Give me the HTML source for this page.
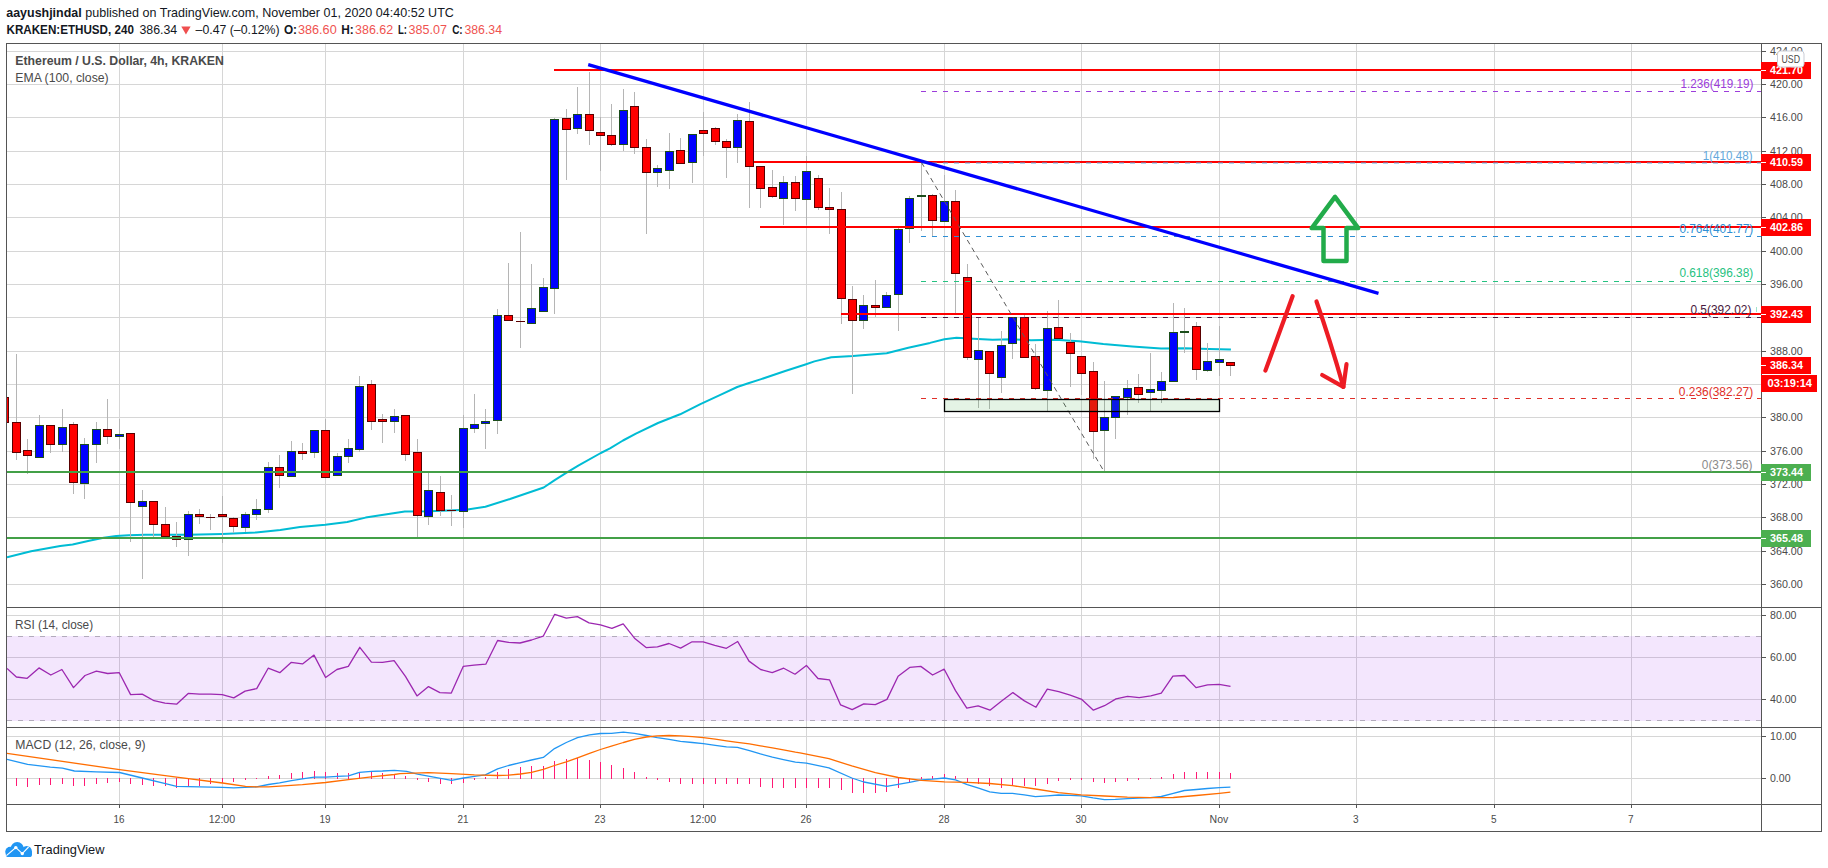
<!DOCTYPE html><html><head><meta charset="utf-8"><title>ETHUSD chart</title><style>html,body{margin:0;padding:0;background:#fff;}svg{display:block;}text{font-family:'Liberation Sans', Arial, sans-serif;}</style></head><body>
<svg width="1828" height="868" viewBox="0 0 1828 868">
<rect width="1828" height="868" fill="#ffffff"/>
<text x="6.3" y="16.5" font-size="13.5" fill="#131722" font-weight="bold" textLength="75.3" lengthAdjust="spacingAndGlyphs">aayushjindal</text>
<text x="85.3" y="16.5" font-size="13.5" fill="#131722" textLength="368.6" lengthAdjust="spacingAndGlyphs">published on TradingView.com, November 01, 2020 04:40:52 UTC</text>
<text x="6.5" y="33.7" font-size="13.5" fill="#131722" font-weight="bold" textLength="127.4" lengthAdjust="spacingAndGlyphs">KRAKEN:ETHUSD, 240</text>
<text x="139.5" y="33.7" font-size="13.5" fill="#131722" textLength="37.7" lengthAdjust="spacingAndGlyphs">386.34</text>
<polygon points="181.3,26.6 190.6,26.6 185.95,34.4" fill="#ef4f4f"/>
<text x="195.6" y="33.7" font-size="13.5" fill="#131722" textLength="84" lengthAdjust="spacingAndGlyphs">–0.47 (–0.12%)</text>
<text x="283.9" y="33.7" font-size="13.5" fill="#131722" font-weight="bold" textLength="13.1" lengthAdjust="spacingAndGlyphs">O:</text>
<text x="298" y="33.7" font-size="13.5" fill="#ef5350" textLength="38.7" lengthAdjust="spacingAndGlyphs">386.60</text>
<text x="341.3" y="33.7" font-size="13.5" fill="#131722" font-weight="bold" textLength="12.5" lengthAdjust="spacingAndGlyphs">H:</text>
<text x="355.1" y="33.7" font-size="13.5" fill="#ef5350" textLength="38.1" lengthAdjust="spacingAndGlyphs">386.62</text>
<text x="398" y="33.7" font-size="13.5" fill="#131722" font-weight="bold" textLength="9" lengthAdjust="spacingAndGlyphs">L:</text>
<text x="408.6" y="33.7" font-size="13.5" fill="#ef5350" textLength="38.4" lengthAdjust="spacingAndGlyphs">385.07</text>
<text x="452.2" y="33.7" font-size="13.5" fill="#131722" font-weight="bold" textLength="10.5" lengthAdjust="spacingAndGlyphs">C:</text>
<text x="464.4" y="33.7" font-size="13.5" fill="#ef5350" textLength="37.6" lengthAdjust="spacingAndGlyphs">386.34</text>
<defs><clipPath id="cm"><rect x="7" y="44" width="1754" height="563"/></clipPath><clipPath id="cr"><rect x="7" y="608" width="1754" height="119"/></clipPath><clipPath id="cd"><rect x="7" y="728" width="1754" height="76"/></clipPath></defs>
<g fill="#d6d6d6">
<rect x="7" y="584" width="1754" height="1"/>
<rect x="7" y="551" width="1754" height="1"/>
<rect x="7" y="517" width="1754" height="1"/>
<rect x="7" y="484" width="1754" height="1"/>
<rect x="7" y="451" width="1754" height="1"/>
<rect x="7" y="417" width="1754" height="1"/>
<rect x="7" y="384" width="1754" height="1"/>
<rect x="7" y="351" width="1754" height="1"/>
<rect x="7" y="317" width="1754" height="1"/>
<rect x="7" y="284" width="1754" height="1"/>
<rect x="7" y="251" width="1754" height="1"/>
<rect x="7" y="217" width="1754" height="1"/>
<rect x="7" y="184" width="1754" height="1"/>
<rect x="7" y="151" width="1754" height="1"/>
<rect x="7" y="117" width="1754" height="1"/>
<rect x="7" y="84" width="1754" height="1"/>
<rect x="7" y="51" width="1754" height="1"/>
<rect x="7" y="615" width="1754" height="1"/>
<rect x="7" y="657" width="1754" height="1"/>
<rect x="7" y="699" width="1754" height="1"/>
<rect x="7" y="736" width="1754" height="1"/>
<rect x="7" y="778" width="1754" height="1"/>
<rect x="119" y="44" width="1" height="760"/>
<rect x="222" y="44" width="1" height="760"/>
<rect x="325" y="44" width="1" height="760"/>
<rect x="463" y="44" width="1" height="760"/>
<rect x="600" y="44" width="1" height="760"/>
<rect x="703" y="44" width="1" height="760"/>
<rect x="806" y="44" width="1" height="760"/>
<rect x="944" y="44" width="1" height="760"/>
<rect x="1081" y="44" width="1" height="760"/>
<rect x="1219" y="44" width="1" height="760"/>
<rect x="1356" y="44" width="1" height="760"/>
<rect x="1494" y="44" width="1" height="760"/>
<rect x="1631" y="44" width="1" height="760"/>
</g>
<rect x="7" y="636" width="1754" height="85" fill="#8705eb" fill-opacity="0.1"/>
<g stroke="#b2abbb" stroke-width="1" stroke-dasharray="5 6"><line x1="7" y1="636.5" x2="1761" y2="636.5"/><line x1="7" y1="720.5" x2="1761" y2="720.5"/></g>
<g clip-path="url(#cm)">
<polyline points="7.0,557.4 31.1,551.2 60.2,546.0 72.6,544.5 89.2,540.8 103.7,537.7 116.2,536.0 128.6,535.2 145.2,534.8 188.4,534.7 222.3,533.9 256.0,532.4 280.3,530.0 300.0,527.0 325.3,524.7 347.2,522.0 365.6,517.6 404.8,511.6 430.0,511.2 466.0,509.7 485.4,506.7 510.0,499.0 543.7,487.5 554.7,480.1 565.8,473.1 578.7,465.3 600.8,453.0 610.0,448.4 623.0,440.5 635.9,433.6 658.0,423.0 680.1,414.3 700.4,404.1 722.5,393.8 737.2,387.0 748.3,383.3 761.2,379.1 785.2,371.0 805.4,364.5 814.4,361.4 831.3,357.3 853.0,356.1 886.7,353.2 908.3,347.7 930.0,342.9 944.4,339.3 956.5,337.8 973.3,338.8 992.6,339.7 1011.8,339.3 1031.1,340.2 1055.1,339.7 1079.2,341.2 1103.3,344.1 1132.2,346.5 1161.0,348.4 1185.1,348.2 1209.2,348.9 1230.9,349.4" fill="none" stroke="#00bcd4" stroke-width="2" stroke-linejoin="round"/>
<g fill="#b5b5b5">
<rect x="4" y="392" width="1" height="33"/>
<rect x="16" y="354" width="1" height="106"/>
<rect x="27" y="439" width="1" height="35"/>
<rect x="39" y="415" width="1" height="43"/>
<rect x="50" y="425" width="1" height="28"/>
<rect x="62" y="409" width="1" height="43"/>
<rect x="73" y="422" width="1" height="72"/>
<rect x="84" y="438" width="1" height="61"/>
<rect x="96" y="422" width="1" height="41"/>
<rect x="107" y="399" width="1" height="45"/>
<rect x="119" y="419" width="1" height="30"/>
<rect x="130" y="433" width="1" height="109"/>
<rect x="142" y="490" width="1" height="89"/>
<rect x="153" y="501" width="1" height="36"/>
<rect x="165" y="507" width="1" height="30"/>
<rect x="176" y="522" width="1" height="25"/>
<rect x="188" y="511" width="1" height="45"/>
<rect x="199" y="509" width="1" height="15"/>
<rect x="210" y="514" width="1" height="16"/>
<rect x="222" y="496" width="1" height="47"/>
<rect x="233" y="517" width="1" height="16"/>
<rect x="245" y="512" width="1" height="20"/>
<rect x="256" y="499" width="1" height="21"/>
<rect x="268" y="462" width="1" height="51"/>
<rect x="279" y="455" width="1" height="33"/>
<rect x="291" y="441" width="1" height="36"/>
<rect x="302" y="443" width="1" height="17"/>
<rect x="314" y="430" width="1" height="28"/>
<rect x="325" y="419" width="1" height="59"/>
<rect x="337" y="453" width="1" height="23"/>
<rect x="348" y="439" width="1" height="24"/>
<rect x="359" y="376" width="1" height="76"/>
<rect x="371" y="380" width="1" height="50"/>
<rect x="382" y="414" width="1" height="29"/>
<rect x="394" y="409" width="1" height="24"/>
<rect x="405" y="415" width="1" height="46"/>
<rect x="417" y="439" width="1" height="100"/>
<rect x="428" y="473" width="1" height="52"/>
<rect x="440" y="476" width="1" height="40"/>
<rect x="451" y="495" width="1" height="31"/>
<rect x="463" y="415" width="1" height="113"/>
<rect x="474" y="394" width="1" height="39"/>
<rect x="485" y="409" width="1" height="40"/>
<rect x="497" y="309" width="1" height="125"/>
<rect x="508" y="263" width="1" height="58"/>
<rect x="520" y="232" width="1" height="116"/>
<rect x="531" y="264" width="1" height="60"/>
<rect x="543" y="278" width="1" height="34"/>
<rect x="554" y="118" width="1" height="196"/>
<rect x="566" y="109" width="1" height="71"/>
<rect x="577" y="87" width="1" height="47"/>
<rect x="589" y="72" width="1" height="73"/>
<rect x="600" y="117" width="1" height="54"/>
<rect x="611" y="104" width="1" height="42"/>
<rect x="623" y="89" width="1" height="62"/>
<rect x="634" y="92" width="1" height="62"/>
<rect x="646" y="139" width="1" height="95"/>
<rect x="657" y="165" width="1" height="22"/>
<rect x="669" y="133" width="1" height="56"/>
<rect x="680" y="138" width="1" height="26"/>
<rect x="692" y="134" width="1" height="49"/>
<rect x="703" y="112" width="1" height="44"/>
<rect x="715" y="127" width="1" height="18"/>
<rect x="726" y="139" width="1" height="39"/>
<rect x="737" y="114" width="1" height="49"/>
<rect x="749" y="102" width="1" height="106"/>
<rect x="760" y="166" width="1" height="42"/>
<rect x="772" y="170" width="1" height="28"/>
<rect x="783" y="176" width="1" height="49"/>
<rect x="795" y="176" width="1" height="35"/>
<rect x="806" y="156" width="1" height="69"/>
<rect x="818" y="175" width="1" height="35"/>
<rect x="829" y="188" width="1" height="46"/>
<rect x="841" y="192" width="1" height="132"/>
<rect x="852" y="286" width="1" height="108"/>
<rect x="863" y="295" width="1" height="34"/>
<rect x="875" y="280" width="1" height="37"/>
<rect x="886" y="292" width="1" height="16"/>
<rect x="898" y="226" width="1" height="105"/>
<rect x="909" y="196" width="1" height="47"/>
<rect x="921" y="162" width="1" height="69"/>
<rect x="932" y="194" width="1" height="42"/>
<rect x="944" y="175" width="1" height="47"/>
<rect x="955" y="190" width="1" height="125"/>
<rect x="967" y="264" width="1" height="96"/>
<rect x="978" y="318" width="1" height="90"/>
<rect x="989" y="351" width="1" height="58"/>
<rect x="1001" y="331" width="1" height="62"/>
<rect x="1012" y="317" width="1" height="42"/>
<rect x="1024" y="315" width="1" height="43"/>
<rect x="1035" y="344" width="1" height="46"/>
<rect x="1047" y="311" width="1" height="101"/>
<rect x="1058" y="300" width="1" height="39"/>
<rect x="1070" y="333" width="1" height="54"/>
<rect x="1081" y="356" width="1" height="39"/>
<rect x="1093" y="362" width="1" height="97"/>
<rect x="1104" y="381" width="1" height="90"/>
<rect x="1115" y="396" width="1" height="43"/>
<rect x="1127" y="380" width="1" height="35"/>
<rect x="1138" y="374" width="1" height="29"/>
<rect x="1150" y="353" width="1" height="58"/>
<rect x="1161" y="372" width="1" height="31"/>
<rect x="1173" y="303" width="1" height="79"/>
<rect x="1184" y="308" width="1" height="45"/>
<rect x="1196" y="322" width="1" height="58"/>
<rect x="1207" y="343" width="1" height="29"/>
<rect x="1219" y="326" width="1" height="50"/>
<rect x="1230" y="362" width="1" height="14"/>
</g>
<rect x="0" y="397" width="9" height="26" fill="#5a0000"/><rect x="1" y="398" width="7" height="24" fill="#ff0000"/>
<rect x="12" y="422" width="9" height="31" fill="#5a0000"/><rect x="13" y="423" width="7" height="29" fill="#ff0000"/>
<rect x="23" y="450" width="9" height="6" fill="#5a0000"/><rect x="24" y="451" width="7" height="4" fill="#ff0000"/>
<rect x="35" y="425" width="9" height="33" fill="#1b4d1b"/><rect x="36" y="426" width="7" height="31" fill="#0000ff"/>
<rect x="46" y="425" width="9" height="20" fill="#5a0000"/><rect x="47" y="426" width="7" height="18" fill="#ff0000"/>
<rect x="58" y="427" width="9" height="18" fill="#1b4d1b"/><rect x="59" y="428" width="7" height="16" fill="#0000ff"/>
<rect x="69" y="424" width="9" height="59" fill="#5a0000"/><rect x="70" y="425" width="7" height="57" fill="#ff0000"/>
<rect x="80" y="444" width="9" height="40" fill="#1b4d1b"/><rect x="81" y="445" width="7" height="38" fill="#0000ff"/>
<rect x="92" y="429" width="9" height="16" fill="#1b4d1b"/><rect x="93" y="430" width="7" height="14" fill="#0000ff"/>
<rect x="103" y="429" width="9" height="8" fill="#5a0000"/><rect x="104" y="430" width="7" height="6" fill="#ff0000"/>
<rect x="115" y="434" width="9" height="3" fill="#1b4d1b"/><rect x="116" y="435" width="7" height="1" fill="#0000ff"/>
<rect x="126" y="433" width="9" height="70" fill="#5a0000"/><rect x="127" y="434" width="7" height="68" fill="#ff0000"/>
<rect x="138" y="501" width="9" height="6" fill="#1b4d1b"/><rect x="139" y="502" width="7" height="4" fill="#0000ff"/>
<rect x="149" y="501" width="9" height="24" fill="#5a0000"/><rect x="150" y="502" width="7" height="22" fill="#ff0000"/>
<rect x="161" y="524" width="9" height="13" fill="#5a0000"/><rect x="162" y="525" width="7" height="11" fill="#ff0000"/>
<rect x="172" y="536" width="9" height="4" fill="#5a0000"/><rect x="173" y="537" width="7" height="2" fill="#ff0000"/>
<rect x="184" y="514" width="9" height="26" fill="#1b4d1b"/><rect x="185" y="515" width="7" height="24" fill="#0000ff"/>
<rect x="195" y="514" width="9" height="3" fill="#5a0000"/><rect x="196" y="515" width="7" height="1" fill="#ff0000"/>
<rect x="206" y="517" width="9" height="1" fill="#5a0000"/>
<rect x="218" y="514" width="9" height="3" fill="#5a0000"/><rect x="219" y="515" width="7" height="1" fill="#ff0000"/>
<rect x="229" y="518" width="9" height="9" fill="#5a0000"/><rect x="230" y="519" width="7" height="7" fill="#ff0000"/>
<rect x="241" y="514" width="9" height="14" fill="#1b4d1b"/><rect x="242" y="515" width="7" height="12" fill="#0000ff"/>
<rect x="252" y="509" width="9" height="6" fill="#1b4d1b"/><rect x="253" y="510" width="7" height="4" fill="#0000ff"/>
<rect x="264" y="467" width="9" height="43" fill="#1b4d1b"/><rect x="265" y="468" width="7" height="41" fill="#0000ff"/>
<rect x="275" y="467" width="9" height="9" fill="#5a0000"/><rect x="276" y="468" width="7" height="7" fill="#ff0000"/>
<rect x="287" y="451" width="9" height="26" fill="#1b4d1b"/><rect x="288" y="452" width="7" height="24" fill="#0000ff"/>
<rect x="298" y="451" width="9" height="3" fill="#5a0000"/><rect x="299" y="452" width="7" height="1" fill="#ff0000"/>
<rect x="310" y="430" width="9" height="23" fill="#1b4d1b"/><rect x="311" y="431" width="7" height="21" fill="#0000ff"/>
<rect x="321" y="430" width="9" height="48" fill="#5a0000"/><rect x="322" y="431" width="7" height="46" fill="#ff0000"/>
<rect x="333" y="456" width="9" height="20" fill="#1b4d1b"/><rect x="334" y="457" width="7" height="18" fill="#0000ff"/>
<rect x="344" y="448" width="9" height="9" fill="#1b4d1b"/><rect x="345" y="449" width="7" height="7" fill="#0000ff"/>
<rect x="355" y="386" width="9" height="64" fill="#1b4d1b"/><rect x="356" y="387" width="7" height="62" fill="#0000ff"/>
<rect x="367" y="384" width="9" height="38" fill="#5a0000"/><rect x="368" y="385" width="7" height="36" fill="#ff0000"/>
<rect x="378" y="419" width="9" height="3" fill="#5a0000"/><rect x="379" y="420" width="7" height="1" fill="#ff0000"/>
<rect x="390" y="416" width="9" height="6" fill="#1b4d1b"/><rect x="391" y="417" width="7" height="4" fill="#0000ff"/>
<rect x="401" y="415" width="9" height="40" fill="#5a0000"/><rect x="402" y="416" width="7" height="38" fill="#ff0000"/>
<rect x="413" y="452" width="9" height="64" fill="#5a0000"/><rect x="414" y="453" width="7" height="62" fill="#ff0000"/>
<rect x="424" y="490" width="9" height="27" fill="#1b4d1b"/><rect x="425" y="491" width="7" height="25" fill="#0000ff"/>
<rect x="436" y="492" width="9" height="19" fill="#5a0000"/><rect x="437" y="493" width="7" height="17" fill="#ff0000"/>
<rect x="447" y="510" width="9" height="1" fill="#5a0000"/>
<rect x="459" y="428" width="9" height="84" fill="#1b4d1b"/><rect x="460" y="429" width="7" height="82" fill="#0000ff"/>
<rect x="470" y="424" width="9" height="5" fill="#1b4d1b"/><rect x="471" y="425" width="7" height="3" fill="#0000ff"/>
<rect x="481" y="421" width="9" height="3" fill="#1b4d1b"/><rect x="482" y="422" width="7" height="1" fill="#0000ff"/>
<rect x="493" y="315" width="9" height="106" fill="#1b4d1b"/><rect x="494" y="316" width="7" height="104" fill="#0000ff"/>
<rect x="504" y="315" width="9" height="6" fill="#5a0000"/><rect x="505" y="316" width="7" height="4" fill="#ff0000"/>
<rect x="516" y="321" width="9" height="1" fill="#5a0000"/>
<rect x="527" y="308" width="9" height="16" fill="#1b4d1b"/><rect x="528" y="309" width="7" height="14" fill="#0000ff"/>
<rect x="539" y="287" width="9" height="25" fill="#1b4d1b"/><rect x="540" y="288" width="7" height="23" fill="#0000ff"/>
<rect x="550" y="119" width="9" height="170" fill="#1b4d1b"/><rect x="551" y="120" width="7" height="168" fill="#0000ff"/>
<rect x="562" y="118" width="9" height="12" fill="#5a0000"/><rect x="563" y="119" width="7" height="10" fill="#ff0000"/>
<rect x="573" y="114" width="9" height="15" fill="#1b4d1b"/><rect x="574" y="115" width="7" height="13" fill="#0000ff"/>
<rect x="585" y="114" width="9" height="17" fill="#5a0000"/><rect x="586" y="115" width="7" height="15" fill="#ff0000"/>
<rect x="596" y="132" width="9" height="4" fill="#5a0000"/><rect x="597" y="133" width="7" height="2" fill="#ff0000"/>
<rect x="607" y="135" width="9" height="10" fill="#5a0000"/><rect x="608" y="136" width="7" height="8" fill="#ff0000"/>
<rect x="619" y="110" width="9" height="35" fill="#1b4d1b"/><rect x="620" y="111" width="7" height="33" fill="#0000ff"/>
<rect x="630" y="106" width="9" height="42" fill="#5a0000"/><rect x="631" y="107" width="7" height="40" fill="#ff0000"/>
<rect x="642" y="147" width="9" height="26" fill="#5a0000"/><rect x="643" y="148" width="7" height="24" fill="#ff0000"/>
<rect x="653" y="168" width="9" height="5" fill="#1b4d1b"/><rect x="654" y="169" width="7" height="3" fill="#0000ff"/>
<rect x="665" y="151" width="9" height="20" fill="#1b4d1b"/><rect x="666" y="152" width="7" height="18" fill="#0000ff"/>
<rect x="676" y="150" width="9" height="14" fill="#5a0000"/><rect x="677" y="151" width="7" height="12" fill="#ff0000"/>
<rect x="688" y="134" width="9" height="29" fill="#1b4d1b"/><rect x="689" y="135" width="7" height="27" fill="#0000ff"/>
<rect x="699" y="130" width="9" height="4" fill="#5a0000"/><rect x="700" y="131" width="7" height="2" fill="#ff0000"/>
<rect x="711" y="128" width="9" height="14" fill="#5a0000"/><rect x="712" y="129" width="7" height="12" fill="#ff0000"/>
<rect x="722" y="141" width="9" height="7" fill="#5a0000"/><rect x="723" y="142" width="7" height="5" fill="#ff0000"/>
<rect x="733" y="120" width="9" height="28" fill="#1b4d1b"/><rect x="734" y="121" width="7" height="26" fill="#0000ff"/>
<rect x="745" y="121" width="9" height="46" fill="#5a0000"/><rect x="746" y="122" width="7" height="44" fill="#ff0000"/>
<rect x="756" y="166" width="9" height="23" fill="#5a0000"/><rect x="757" y="167" width="7" height="21" fill="#ff0000"/>
<rect x="768" y="187" width="9" height="10" fill="#5a0000"/><rect x="769" y="188" width="7" height="8" fill="#ff0000"/>
<rect x="779" y="182" width="9" height="17" fill="#1b4d1b"/><rect x="780" y="183" width="7" height="15" fill="#0000ff"/>
<rect x="791" y="182" width="9" height="17" fill="#5a0000"/><rect x="792" y="183" width="7" height="15" fill="#ff0000"/>
<rect x="802" y="171" width="9" height="29" fill="#1b4d1b"/><rect x="803" y="172" width="7" height="27" fill="#0000ff"/>
<rect x="814" y="178" width="9" height="30" fill="#5a0000"/><rect x="815" y="179" width="7" height="28" fill="#ff0000"/>
<rect x="825" y="207" width="9" height="3" fill="#5a0000"/><rect x="826" y="208" width="7" height="1" fill="#ff0000"/>
<rect x="837" y="209" width="9" height="90" fill="#5a0000"/><rect x="838" y="210" width="7" height="88" fill="#ff0000"/>
<rect x="848" y="299" width="9" height="22" fill="#5a0000"/><rect x="849" y="300" width="7" height="20" fill="#ff0000"/>
<rect x="859" y="305" width="9" height="16" fill="#1b4d1b"/><rect x="860" y="306" width="7" height="14" fill="#0000ff"/>
<rect x="871" y="305" width="9" height="3" fill="#5a0000"/><rect x="872" y="306" width="7" height="1" fill="#ff0000"/>
<rect x="882" y="295" width="9" height="13" fill="#1b4d1b"/><rect x="883" y="296" width="7" height="11" fill="#0000ff"/>
<rect x="894" y="229" width="9" height="66" fill="#1b4d1b"/><rect x="895" y="230" width="7" height="64" fill="#0000ff"/>
<rect x="905" y="198" width="9" height="31" fill="#1b4d1b"/><rect x="906" y="199" width="7" height="29" fill="#0000ff"/>
<rect x="917" y="195" width="9" height="2" fill="#1b4d1b"/>
<rect x="928" y="195" width="9" height="26" fill="#5a0000"/><rect x="929" y="196" width="7" height="24" fill="#ff0000"/>
<rect x="940" y="201" width="9" height="21" fill="#1b4d1b"/><rect x="941" y="202" width="7" height="19" fill="#0000ff"/>
<rect x="951" y="201" width="9" height="73" fill="#5a0000"/><rect x="952" y="202" width="7" height="71" fill="#ff0000"/>
<rect x="963" y="277" width="9" height="81" fill="#5a0000"/><rect x="964" y="278" width="7" height="79" fill="#ff0000"/>
<rect x="974" y="350" width="9" height="10" fill="#1b4d1b"/><rect x="975" y="351" width="7" height="8" fill="#0000ff"/>
<rect x="985" y="351" width="9" height="23" fill="#5a0000"/><rect x="986" y="352" width="7" height="21" fill="#ff0000"/>
<rect x="997" y="345" width="9" height="33" fill="#1b4d1b"/><rect x="998" y="346" width="7" height="31" fill="#0000ff"/>
<rect x="1008" y="317" width="9" height="27" fill="#1b4d1b"/><rect x="1009" y="318" width="7" height="25" fill="#0000ff"/>
<rect x="1020" y="317" width="9" height="41" fill="#5a0000"/><rect x="1021" y="318" width="7" height="39" fill="#ff0000"/>
<rect x="1031" y="356" width="9" height="33" fill="#5a0000"/><rect x="1032" y="357" width="7" height="31" fill="#ff0000"/>
<rect x="1043" y="328" width="9" height="63" fill="#1b4d1b"/><rect x="1044" y="329" width="7" height="61" fill="#0000ff"/>
<rect x="1054" y="327" width="9" height="12" fill="#5a0000"/><rect x="1055" y="328" width="7" height="10" fill="#ff0000"/>
<rect x="1066" y="342" width="9" height="12" fill="#5a0000"/><rect x="1067" y="343" width="7" height="10" fill="#ff0000"/>
<rect x="1077" y="356" width="9" height="18" fill="#5a0000"/><rect x="1078" y="357" width="7" height="16" fill="#ff0000"/>
<rect x="1089" y="371" width="9" height="61" fill="#5a0000"/><rect x="1090" y="372" width="7" height="59" fill="#ff0000"/>
<rect x="1100" y="417" width="9" height="14" fill="#1b4d1b"/><rect x="1101" y="418" width="7" height="12" fill="#0000ff"/>
<rect x="1111" y="396" width="9" height="22" fill="#1b4d1b"/><rect x="1112" y="397" width="7" height="20" fill="#0000ff"/>
<rect x="1123" y="388" width="9" height="10" fill="#1b4d1b"/><rect x="1124" y="389" width="7" height="8" fill="#0000ff"/>
<rect x="1134" y="387" width="9" height="8" fill="#5a0000"/><rect x="1135" y="388" width="7" height="6" fill="#ff0000"/>
<rect x="1146" y="389" width="9" height="4" fill="#1b4d1b"/><rect x="1147" y="390" width="7" height="2" fill="#0000ff"/>
<rect x="1157" y="381" width="9" height="10" fill="#1b4d1b"/><rect x="1158" y="382" width="7" height="8" fill="#0000ff"/>
<rect x="1169" y="332" width="9" height="50" fill="#1b4d1b"/><rect x="1170" y="333" width="7" height="48" fill="#0000ff"/>
<rect x="1180" y="331" width="9" height="2" fill="#1b4d1b"/>
<rect x="1192" y="326" width="9" height="44" fill="#5a0000"/><rect x="1193" y="327" width="7" height="42" fill="#ff0000"/>
<rect x="1203" y="361" width="9" height="10" fill="#1b4d1b"/><rect x="1204" y="362" width="7" height="8" fill="#0000ff"/>
<rect x="1215" y="359" width="9" height="4" fill="#1b4d1b"/><rect x="1216" y="360" width="7" height="2" fill="#0000ff"/>
<rect x="1226" y="362" width="9" height="4" fill="#5a0000"/><rect x="1227" y="363" width="7" height="2" fill="#ff0000"/>
<g>
<rect x="554" y="69" width="1207" height="2" fill="#ff0000"/>
<rect x="754" y="161" width="1007" height="2" fill="#ff0000"/>
<rect x="760" y="226" width="1001" height="2" fill="#ff0000"/>
<rect x="841" y="313" width="920" height="2" fill="#ff0000"/>
<rect x="7" y="471" width="1754" height="2" fill="#43a047"/>
<rect x="7" y="537" width="1754" height="2" fill="#43a047"/>
</g>
<line x1="921" y1="91.5" x2="1761" y2="91.5" stroke="#9c3ddb" stroke-width="1" stroke-dasharray="5 6"/>
<line x1="921" y1="163" x2="1761" y2="163" stroke="#64a8dc" stroke-width="1" stroke-dasharray="5 6"/>
<line x1="921" y1="236.5" x2="1761" y2="236.5" stroke="#2f8fd4" stroke-width="1" stroke-dasharray="5 6"/>
<line x1="921" y1="281.5" x2="1761" y2="281.5" stroke="#26c281" stroke-width="1" stroke-dasharray="5 6"/>
<line x1="921" y1="317.5" x2="1761" y2="317.5" stroke="#4a1a40" stroke-width="1" stroke-dasharray="5 6"/>
<line x1="921" y1="398.5" x2="1761" y2="398.5" stroke="#e0302a" stroke-width="1" stroke-dasharray="5 6"/>
<line x1="921.5" y1="162.5" x2="1103.5" y2="470.5" stroke="#5a5a5a" stroke-width="1" stroke-dasharray="5 4"/>
<rect x="944.5" y="399.5" width="275" height="12" fill="#4caf50" fill-opacity="0.15" stroke="#000" stroke-width="1.3"/>
<text x="1680.5" y="87.9" font-size="12" fill="#9c3ddb" textLength="72.9" lengthAdjust="spacingAndGlyphs">1.236(419.19)</text>
<text x="1702.8" y="160.1" font-size="12" fill="#64a8dc" textLength="49.7" lengthAdjust="spacingAndGlyphs">1(410.48)</text>
<text x="1679.4" y="233" font-size="12" fill="#2f8fd4" textLength="73.8" lengthAdjust="spacingAndGlyphs">0.764(401.77)</text>
<text x="1679.4" y="277.2" font-size="12" fill="#26c281" textLength="73.8" lengthAdjust="spacingAndGlyphs">0.618(396.38)</text>
<text x="1690.4" y="314" font-size="12" fill="#4a1a40" textLength="61" lengthAdjust="spacingAndGlyphs">0.5(392.02)</text>
<text x="1678.8" y="395.5" font-size="12" fill="#e0302a" textLength="74.4" lengthAdjust="spacingAndGlyphs">0.236(382.27)</text>
<text x="1701.8" y="468.8" font-size="12" fill="#8a8a8a" textLength="50.7" lengthAdjust="spacingAndGlyphs">0(373.56)</text>
<line x1="588.2" y1="64.6" x2="1378.5" y2="293.4" stroke="#0000ff" stroke-width="3.2"/>
<path d="M1335,196.8 L1311.8,228.1 L1323.5,228.1 L1323.5,260.9 L1346.5,260.9 L1346.5,228.1 L1358.2,228.1 Z" fill="none" stroke="#22ab4a" stroke-width="4.5" stroke-linejoin="round"/>
<g fill="none" stroke="#ed1c24" stroke-width="4.2" stroke-linecap="round" stroke-linejoin="round"><path d="M1265.4,370.6 L1292.6,296.2"/><path d="M1316.5,301.5 Q1330,340 1343.4,386.8"/><path d="M1322.2,375 L1343.4,386.8 L1346.5,364.2"/></g>
<rect x="1756" y="307" width="1" height="5" fill="#a0e3cc"/>
</g>
<text x="15.3" y="65.1" font-size="13.5" fill="#4a4a4a" font-weight="bold" textLength="208.6" lengthAdjust="spacingAndGlyphs">Ethereum / U.S. Dollar, 4h, KRAKEN</text>
<text x="15.3" y="81.5" font-size="13.5" fill="#4a4a4a" textLength="93.4" lengthAdjust="spacingAndGlyphs">EMA (100, close)</text>
<g clip-path="url(#cr)">
<polyline points="7.0,668.4 16.4,677.0 27.2,678.3 39.0,667.9 50.8,675.0 61.9,669.5 73.5,687.6 85.0,675.5 96.4,671.2 107.7,673.5 119.3,672.7 130.6,694.6 142.2,694.1 154.0,700.7 165.0,703.2 176.6,704.2 188.2,693.4 199.5,694.1 210.9,694.1 222.2,694.6 233.8,697.9 245.1,691.1 256.7,688.6 268.2,668.2 279.8,672.7 291.1,662.4 302.5,663.9 314.0,655.1 325.6,677.5 336.9,669.5 348.3,666.4 359.8,647.3 371.4,662.2 382.5,662.4 394.1,660.6 405.6,676.7 417.0,695.9 428.5,686.6 439.9,692.6 451.3,693.1 463.2,666.4 474.0,665.2 485.8,664.2 497.6,640.5 508.4,642.3 520.0,643.0 531.6,640.0 543.2,636.2 554.7,614.3 566.3,618.1 577.4,616.6 589.0,622.9 600.5,624.9 611.9,628.4 623.2,623.9 634.5,638.2 646.1,647.6 657.4,646.8 669.0,643.5 680.6,648.1 692.1,641.8 703.2,641.8 714.8,645.3 726.4,648.3 737.7,641.5 749.0,661.1 760.6,669.5 772.2,672.7 783.7,668.2 795.0,674.2 806.4,665.4 818.0,678.5 829.5,679.8 840.6,704.9 852.2,709.7 863.8,703.9 875.3,704.7 887.0,699.4 898.1,676.2 909.7,667.4 920.8,666.4 932.6,675.0 944.2,669.2 955.5,690.6 966.8,708.2 978.1,705.9 990.0,710.2 1001.3,701.2 1012.9,692.6 1024.4,700.9 1036.0,707.2 1047.3,689.1 1058.7,691.6 1070.2,695.1 1081.8,699.4 1093.4,710.2 1104.5,705.7 1116.0,698.9 1127.6,696.4 1139.2,697.6 1150.8,695.9 1161.3,693.1 1172.9,676.2 1184.5,675.5 1196.0,687.6 1207.6,684.8 1219.2,684.3 1230.5,686.3" fill="none" stroke="#9c27b0" stroke-width="1.3" stroke-linejoin="round"/>
</g>
<text x="15.1" y="629.0" font-size="13.5" fill="#4a4a4a" textLength="78" lengthAdjust="spacingAndGlyphs">RSI (14, close)</text>
<g clip-path="url(#cd)">
<g fill="#ff1a75">
<rect x="4" y="778" width="1" height="8"/>
<rect x="16" y="778" width="1" height="8"/>
<rect x="27" y="778" width="1" height="9"/>
<rect x="39" y="778" width="1" height="7"/>
<rect x="50" y="778" width="1" height="7"/>
<rect x="62" y="778" width="1" height="6"/>
<rect x="73" y="778" width="1" height="8"/>
<rect x="84" y="778" width="1" height="8"/>
<rect x="96" y="778" width="1" height="6"/>
<rect x="107" y="778" width="1" height="5"/>
<rect x="119" y="778" width="1" height="4"/>
<rect x="130" y="778" width="1" height="6"/>
<rect x="142" y="778" width="1" height="7"/>
<rect x="153" y="778" width="1" height="8"/>
<rect x="165" y="778" width="1" height="8"/>
<rect x="176" y="778" width="1" height="10"/>
<rect x="188" y="778" width="1" height="8"/>
<rect x="199" y="778" width="1" height="8"/>
<rect x="210" y="778" width="1" height="6"/>
<rect x="222" y="778" width="1" height="5"/>
<rect x="233" y="778" width="1" height="4"/>
<rect x="245" y="778" width="1" height="2"/>
<rect x="256" y="778" width="1" height="1"/>
<rect x="268" y="776" width="1" height="3"/>
<rect x="279" y="775" width="1" height="4"/>
<rect x="291" y="773" width="1" height="6"/>
<rect x="302" y="772" width="1" height="7"/>
<rect x="314" y="771" width="1" height="8"/>
<rect x="325" y="772" width="1" height="7"/>
<rect x="337" y="773" width="1" height="6"/>
<rect x="348" y="773" width="1" height="6"/>
<rect x="359" y="772" width="1" height="7"/>
<rect x="371" y="772" width="1" height="7"/>
<rect x="382" y="773" width="1" height="6"/>
<rect x="394" y="774" width="1" height="5"/>
<rect x="405" y="776" width="1" height="3"/>
<rect x="417" y="778" width="1" height="2"/>
<rect x="428" y="778" width="1" height="4"/>
<rect x="440" y="778" width="1" height="6"/>
<rect x="451" y="778" width="1" height="6"/>
<rect x="463" y="778" width="1" height="5"/>
<rect x="474" y="778" width="1" height="2"/>
<rect x="485" y="777" width="1" height="2"/>
<rect x="497" y="772" width="1" height="7"/>
<rect x="508" y="769" width="1" height="10"/>
<rect x="520" y="767" width="1" height="12"/>
<rect x="531" y="766" width="1" height="13"/>
<rect x="543" y="766" width="1" height="13"/>
<rect x="554" y="761" width="1" height="18"/>
<rect x="566" y="759" width="1" height="20"/>
<rect x="577" y="758" width="1" height="21"/>
<rect x="589" y="760" width="1" height="19"/>
<rect x="600" y="762" width="1" height="17"/>
<rect x="611" y="765" width="1" height="14"/>
<rect x="623" y="768" width="1" height="11"/>
<rect x="634" y="772" width="1" height="7"/>
<rect x="646" y="777" width="1" height="2"/>
<rect x="657" y="778" width="1" height="2"/>
<rect x="669" y="778" width="1" height="4"/>
<rect x="680" y="778" width="1" height="6"/>
<rect x="692" y="778" width="1" height="6"/>
<rect x="703" y="778" width="1" height="6"/>
<rect x="715" y="778" width="1" height="6"/>
<rect x="726" y="778" width="1" height="6"/>
<rect x="737" y="778" width="1" height="6"/>
<rect x="749" y="778" width="1" height="6"/>
<rect x="760" y="778" width="1" height="9"/>
<rect x="772" y="778" width="1" height="10"/>
<rect x="783" y="778" width="1" height="10"/>
<rect x="795" y="778" width="1" height="10"/>
<rect x="806" y="778" width="1" height="10"/>
<rect x="818" y="778" width="1" height="10"/>
<rect x="829" y="778" width="1" height="10"/>
<rect x="841" y="778" width="1" height="12"/>
<rect x="852" y="778" width="1" height="15"/>
<rect x="863" y="778" width="1" height="15"/>
<rect x="875" y="778" width="1" height="15"/>
<rect x="886" y="778" width="1" height="14"/>
<rect x="898" y="778" width="1" height="10"/>
<rect x="909" y="778" width="1" height="4"/>
<rect x="921" y="777" width="1" height="2"/>
<rect x="932" y="776" width="1" height="3"/>
<rect x="944" y="774" width="1" height="5"/>
<rect x="955" y="776" width="1" height="3"/>
<rect x="967" y="778" width="1" height="4"/>
<rect x="978" y="778" width="1" height="6"/>
<rect x="989" y="778" width="1" height="8"/>
<rect x="1001" y="778" width="1" height="10"/>
<rect x="1012" y="778" width="1" height="8"/>
<rect x="1024" y="778" width="1" height="8"/>
<rect x="1035" y="778" width="1" height="8"/>
<rect x="1047" y="778" width="1" height="6"/>
<rect x="1058" y="778" width="1" height="3"/>
<rect x="1070" y="778" width="1" height="2"/>
<rect x="1081" y="778" width="1" height="2"/>
<rect x="1093" y="778" width="1" height="4"/>
<rect x="1104" y="778" width="1" height="5"/>
<rect x="1115" y="778" width="1" height="4"/>
<rect x="1127" y="778" width="1" height="3"/>
<rect x="1138" y="778" width="1" height="2"/>
<rect x="1150" y="778" width="1" height="1"/>
<rect x="1161" y="777" width="1" height="2"/>
<rect x="1173" y="774" width="1" height="5"/>
<rect x="1184" y="772" width="1" height="7"/>
<rect x="1196" y="772" width="1" height="7"/>
<rect x="1207" y="772" width="1" height="7"/>
<rect x="1219" y="772" width="1" height="7"/>
<rect x="1230" y="773" width="1" height="6"/>
</g>
<polyline points="7.0,759.4 27.6,764.4 50.3,767.2 62.4,768.1 74.4,771.0 96.3,771.8 119.5,772.5 142.2,778.0 165.4,783.6 176.6,786.3 199.6,786.9 222.5,787.4 233.7,787.8 256.5,786.9 268.5,784.5 279.6,782.8 291.5,780.6 302.4,778.8 314.4,777.1 325.6,777.1 337.4,776.4 348.4,775.8 359.5,772.3 371.3,771.4 382.5,771.0 394.3,770.3 406.6,771.4 417.5,774.2 428.4,776.2 440.5,778.4 451.6,780.4 463.5,778.0 474.4,776.4 485.3,774.9 497.6,768.8 508.5,765.5 520.4,762.6 531.5,760.0 543.3,757.4 554.5,748.6 566.3,742.5 577.5,737.7 589.5,734.8 600.4,733.5 611.4,733.3 623.4,732.2 634.4,733.3 646.4,735.5 657.3,737.7 669.1,739.4 680.5,741.4 692.3,742.5 703.3,743.6 715.3,745.4 726.5,746.9 737.4,747.3 749.5,750.6 760.4,753.9 772.4,757.2 783.4,759.6 795.4,762.2 806.4,763.2 828.9,767.8 851.8,778.0 863.8,782.0 886.7,786.4 909.5,782.3 921.6,779.9 932.4,779.2 944.4,778.0 955.5,779.9 967.3,784.7 978.6,788.1 989.7,791.9 1001.2,793.4 1012.5,793.4 1024.3,794.8 1035.4,796.7 1047.2,795.8 1058.5,795.0 1070.6,795.3 1081.1,795.8 1093.2,797.9 1104.5,799.6 1115.3,799.4 1127.4,798.7 1138.2,798.2 1150.5,797.7 1161.3,796.5 1173.3,793.4 1184.4,790.5 1196.4,789.5 1207.5,788.5 1219.3,787.6 1230.4,787.1" fill="none" stroke="#2196f3" stroke-width="1.3" stroke-linejoin="round"/>
<polyline points="7.0,753.4 119.5,769.6 176.6,777.1 222.5,783.0 245.5,786.3 256.5,786.9 268.5,786.9 302.4,784.7 325.6,782.5 348.4,779.7 371.3,776.9 394.3,774.5 400.0,773.6 428.4,772.7 451.6,773.6 474.4,774.9 497.6,775.5 508.5,775.1 520.4,774.0 531.5,772.3 543.3,769.4 554.5,765.5 566.3,761.8 577.5,757.8 589.5,753.4 600.4,749.5 611.4,746.2 623.4,742.5 634.4,739.4 646.4,737.0 657.3,735.9 669.1,735.5 680.5,735.9 692.3,736.6 703.3,737.7 715.3,739.2 726.5,740.8 737.4,742.3 749.5,743.8 760.4,745.8 772.4,747.8 783.4,749.9 795.4,752.1 800.0,752.8 828.9,758.7 851.8,765.9 875.3,772.7 898.2,777.5 921.6,780.4 944.4,781.8 967.3,782.3 989.7,783.5 1012.5,785.7 1035.4,789.0 1058.5,792.6 1081.1,794.8 1104.5,796.0 1127.4,797.2 1150.5,797.7 1173.3,797.5 1196.4,795.5 1219.3,793.4 1230.4,792.2" fill="none" stroke="#ff6d00" stroke-width="1.3" stroke-linejoin="round"/>
</g>
<text x="15.3" y="748.6" font-size="13.5" fill="#4a4a4a" textLength="130.2" lengthAdjust="spacingAndGlyphs">MACD (12, 26, close, 9)</text>
<g fill="#555555">
<rect x="6" y="43" width="1816" height="1"/>
<rect x="6" y="831" width="1816" height="1"/>
<rect x="6" y="43" width="1" height="789"/>
<rect x="1821" y="43" width="1" height="789"/>
<rect x="1761" y="43" width="1" height="789"/>
<rect x="6" y="607" width="1816" height="1"/>
<rect x="6" y="727" width="1816" height="1"/>
<rect x="6" y="804" width="1816" height="1"/>
<rect x="1762" y="584" width="4" height="1"/>
<rect x="1762" y="551" width="4" height="1"/>
<rect x="1762" y="517" width="4" height="1"/>
<rect x="1762" y="484" width="4" height="1"/>
<rect x="1762" y="451" width="4" height="1"/>
<rect x="1762" y="417" width="4" height="1"/>
<rect x="1762" y="384" width="4" height="1"/>
<rect x="1762" y="351" width="4" height="1"/>
<rect x="1762" y="317" width="4" height="1"/>
<rect x="1762" y="284" width="4" height="1"/>
<rect x="1762" y="251" width="4" height="1"/>
<rect x="1762" y="217" width="4" height="1"/>
<rect x="1762" y="184" width="4" height="1"/>
<rect x="1762" y="151" width="4" height="1"/>
<rect x="1762" y="117" width="4" height="1"/>
<rect x="1762" y="84" width="4" height="1"/>
<rect x="1762" y="51" width="4" height="1"/>
<rect x="1762" y="615" width="4" height="1"/>
<rect x="1762" y="657" width="4" height="1"/>
<rect x="1762" y="699" width="4" height="1"/>
<rect x="1762" y="736" width="4" height="1"/>
<rect x="1762" y="778" width="4" height="1"/>
<rect x="119" y="805" width="1" height="3"/>
<rect x="222" y="805" width="1" height="3"/>
<rect x="325" y="805" width="1" height="3"/>
<rect x="463" y="805" width="1" height="3"/>
<rect x="600" y="805" width="1" height="3"/>
<rect x="703" y="805" width="1" height="3"/>
<rect x="806" y="805" width="1" height="3"/>
<rect x="944" y="805" width="1" height="3"/>
<rect x="1081" y="805" width="1" height="3"/>
<rect x="1219" y="805" width="1" height="3"/>
<rect x="1356" y="805" width="1" height="3"/>
<rect x="1494" y="805" width="1" height="3"/>
<rect x="1631" y="805" width="1" height="3"/>
</g>
<text x="1770" y="588.3" font-size="11.5" fill="#4a4a4a" textLength="32.7" lengthAdjust="spacingAndGlyphs">360.00</text>
<text x="1770" y="555.3" font-size="11.5" fill="#4a4a4a" textLength="32.7" lengthAdjust="spacingAndGlyphs">364.00</text>
<text x="1770" y="521.3" font-size="11.5" fill="#4a4a4a" textLength="32.7" lengthAdjust="spacingAndGlyphs">368.00</text>
<text x="1770" y="488.3" font-size="11.5" fill="#4a4a4a" textLength="32.7" lengthAdjust="spacingAndGlyphs">372.00</text>
<text x="1770" y="455.3" font-size="11.5" fill="#4a4a4a" textLength="32.7" lengthAdjust="spacingAndGlyphs">376.00</text>
<text x="1770" y="421.3" font-size="11.5" fill="#4a4a4a" textLength="32.7" lengthAdjust="spacingAndGlyphs">380.00</text>
<text x="1770" y="388.3" font-size="11.5" fill="#4a4a4a" textLength="32.7" lengthAdjust="spacingAndGlyphs">384.00</text>
<text x="1770" y="355.3" font-size="11.5" fill="#4a4a4a" textLength="32.7" lengthAdjust="spacingAndGlyphs">388.00</text>
<text x="1770" y="321.3" font-size="11.5" fill="#4a4a4a" textLength="32.7" lengthAdjust="spacingAndGlyphs">392.00</text>
<text x="1770" y="288.3" font-size="11.5" fill="#4a4a4a" textLength="32.7" lengthAdjust="spacingAndGlyphs">396.00</text>
<text x="1770" y="255.3" font-size="11.5" fill="#4a4a4a" textLength="32.7" lengthAdjust="spacingAndGlyphs">400.00</text>
<text x="1770" y="221.3" font-size="11.5" fill="#4a4a4a" textLength="32.7" lengthAdjust="spacingAndGlyphs">404.00</text>
<text x="1770" y="188.3" font-size="11.5" fill="#4a4a4a" textLength="32.7" lengthAdjust="spacingAndGlyphs">408.00</text>
<text x="1770" y="155.3" font-size="11.5" fill="#4a4a4a" textLength="32.7" lengthAdjust="spacingAndGlyphs">412.00</text>
<text x="1770" y="121.3" font-size="11.5" fill="#4a4a4a" textLength="32.7" lengthAdjust="spacingAndGlyphs">416.00</text>
<text x="1770" y="88.3" font-size="11.5" fill="#4a4a4a" textLength="32.7" lengthAdjust="spacingAndGlyphs">420.00</text>
<text x="1770" y="55.3" font-size="11.5" fill="#4a4a4a" textLength="32.7" lengthAdjust="spacingAndGlyphs">424.00</text>
<text x="1770" y="619.3" font-size="11.5" fill="#4a4a4a" textLength="26.5" lengthAdjust="spacingAndGlyphs">80.00</text>
<text x="1770" y="661.3" font-size="11.5" fill="#4a4a4a" textLength="26.5" lengthAdjust="spacingAndGlyphs">60.00</text>
<text x="1770" y="703.3" font-size="11.5" fill="#4a4a4a" textLength="26.5" lengthAdjust="spacingAndGlyphs">40.00</text>
<text x="1770" y="740.3" font-size="11.5" fill="#4a4a4a" textLength="26.5" lengthAdjust="spacingAndGlyphs">10.00</text>
<text x="1770" y="782.3" font-size="11.5" fill="#4a4a4a" textLength="20.5" lengthAdjust="spacingAndGlyphs">0.00</text>
<text x="113.4" y="823" font-size="11.5" fill="#4a4a4a" textLength="11.0" lengthAdjust="spacingAndGlyphs">16</text>
<text x="208.65" y="823" font-size="11.5" fill="#4a4a4a" textLength="26.5" lengthAdjust="spacingAndGlyphs">12:00</text>
<text x="319.4" y="823" font-size="11.5" fill="#4a4a4a" textLength="11.0" lengthAdjust="spacingAndGlyphs">19</text>
<text x="457.4" y="823" font-size="11.5" fill="#4a4a4a" textLength="11.0" lengthAdjust="spacingAndGlyphs">21</text>
<text x="594.4" y="823" font-size="11.5" fill="#4a4a4a" textLength="11.0" lengthAdjust="spacingAndGlyphs">23</text>
<text x="689.65" y="823" font-size="11.5" fill="#4a4a4a" textLength="26.5" lengthAdjust="spacingAndGlyphs">12:00</text>
<text x="800.4" y="823" font-size="11.5" fill="#4a4a4a" textLength="11.0" lengthAdjust="spacingAndGlyphs">26</text>
<text x="938.4" y="823" font-size="11.5" fill="#4a4a4a" textLength="11.0" lengthAdjust="spacingAndGlyphs">28</text>
<text x="1075.4" y="823" font-size="11.5" fill="#4a4a4a" textLength="11.0" lengthAdjust="spacingAndGlyphs">30</text>
<text x="1209.55" y="823" font-size="11.5" fill="#4a4a4a" textLength="18.7" lengthAdjust="spacingAndGlyphs">Nov</text>
<text x="1353.1" y="823" font-size="11.5" fill="#4a4a4a" textLength="5.6" lengthAdjust="spacingAndGlyphs">3</text>
<text x="1491.1" y="823" font-size="11.5" fill="#4a4a4a" textLength="5.6" lengthAdjust="spacingAndGlyphs">5</text>
<text x="1628.1" y="823" font-size="11.5" fill="#4a4a4a" textLength="5.6" lengthAdjust="spacingAndGlyphs">7</text>
<rect x="1761" y="62" width="50" height="17" fill="#ff0000"/>
<rect x="1761" y="70" width="5" height="1" fill="#ffffff"/>
<text x="1770" y="74.0" font-size="11.5" fill="#ffffff" font-weight="bold" textLength="33" lengthAdjust="spacingAndGlyphs">421.70</text>
<rect x="1761" y="154" width="50" height="17" fill="#ff0000"/>
<rect x="1761" y="162" width="5" height="1" fill="#ffffff"/>
<text x="1770" y="166.0" font-size="11.5" fill="#ffffff" font-weight="bold" textLength="33" lengthAdjust="spacingAndGlyphs">410.59</text>
<rect x="1761" y="219" width="50" height="17" fill="#ff0000"/>
<rect x="1761" y="227" width="5" height="1" fill="#ffffff"/>
<text x="1770" y="231.0" font-size="11.5" fill="#ffffff" font-weight="bold" textLength="33" lengthAdjust="spacingAndGlyphs">402.86</text>
<rect x="1761" y="306" width="50" height="17" fill="#ff0000"/>
<rect x="1761" y="314" width="5" height="1" fill="#ffffff"/>
<text x="1770" y="318.0" font-size="11.5" fill="#ffffff" font-weight="bold" textLength="33" lengthAdjust="spacingAndGlyphs">392.43</text>
<rect x="1761" y="357" width="50" height="17" fill="#ff0000"/>
<rect x="1761" y="365" width="5" height="1" fill="#ffffff"/>
<text x="1770" y="369.0" font-size="11.5" fill="#ffffff" font-weight="bold" textLength="33" lengthAdjust="spacingAndGlyphs">386.34</text>
<rect x="1761" y="375" width="56" height="17" fill="#ff0000"/>
<text x="1767.5" y="387.0" font-size="11.5" fill="#ffffff" font-weight="bold" textLength="44.5" lengthAdjust="spacingAndGlyphs">03:19:14</text>
<rect x="1761" y="464" width="50" height="17" fill="#4caf50"/>
<rect x="1761" y="472" width="5" height="1" fill="#ffffff"/>
<text x="1770" y="476.0" font-size="11.5" fill="#ffffff" font-weight="bold" textLength="33" lengthAdjust="spacingAndGlyphs">373.44</text>
<rect x="1761" y="530" width="50" height="17" fill="#4caf50"/>
<rect x="1761" y="538" width="5" height="1" fill="#ffffff"/>
<text x="1770" y="542.0" font-size="11.5" fill="#ffffff" font-weight="bold" textLength="33" lengthAdjust="spacingAndGlyphs">365.48</text>
<rect x="1777.5" y="51" width="26.5" height="16" rx="3" fill="#ffffff" stroke="#c9cdd6" stroke-width="1"/>
<text x="1790.8" y="63.2" font-size="11" fill="#4a4a4a" text-anchor="middle" textLength="18.5" lengthAdjust="spacingAndGlyphs">USD</text>
<g fill="#2196f3"><circle cx="17.2" cy="848.6" r="6.6"/><circle cx="26.6" cy="851.2" r="5.3"/><circle cx="10.2" cy="851.6" r="4.9"/><rect x="5.8" y="850" width="26.2" height="7" rx="2.6"/></g><polyline points="6.4,855.6 15.8,847.6 22.3,853.6 28.6,847.0" fill="none" stroke="#ffffff" stroke-width="1.1"/><circle cx="15.8" cy="847.6" r="1.7" fill="#ffffff"/><circle cx="22.3" cy="853.6" r="1.7" fill="#ffffff"/>
<text x="34" y="854.2" font-size="12.8" fill="#131722" textLength="70.5" lengthAdjust="spacingAndGlyphs">TradingView</text>
</svg></body></html>
